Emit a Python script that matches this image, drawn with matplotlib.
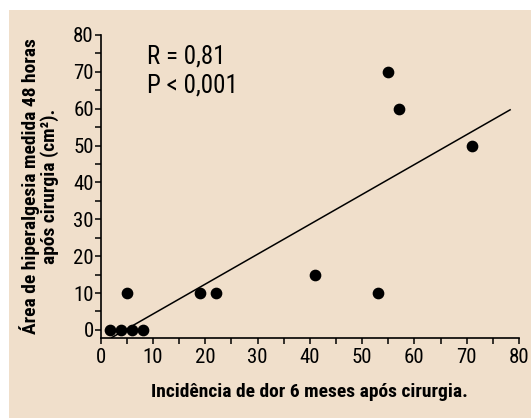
import matplotlib
matplotlib.use("Agg")
import matplotlib.pyplot as plt
from matplotlib.patches import Rectangle
from matplotlib.ticker import MultipleLocator
from matplotlib import font_manager

# Data
incidencia = [1.7, 3.9, 6.0, 8.1, 5.0, 19.0, 22.0, 41.0, 53.0, 55.0, 57.0, 71.0]
area = [0, 0, 0, 0, 10, 10, 10, 15, 10, 70, 60, 50]
fit_x = [2.1, 78.3]
fit_y = [-2.1, 59.7]
xticks = [0, 10, 20, 30, 40, 50, 60, 70, 80]
yticks = [0, 10, 20, 30, 40, 50, 60, 70, 80]

names = {f.name for f in font_manager.fontManager.ttflist}
fam = "Liberation Sans"
for cand in ["Nimbus Sans Narrow", "Liberation Sans Narrow", "Arial Narrow",
             "Roboto Condensed", "Archivo Narrow", "PT Sans Narrow",
             "Open Sans Condensed", "Barlow Semi Condensed"]:
    if cand in names:
        fam = cand
        break
plt.rcParams['font.family'] = [fam, 'DejaVu Sans']

bg = "#F0DFCB"
W, H = 531, 418
fig = plt.figure(figsize=(W/100, H/100), dpi=100, facecolor="white")
fig.patches.append(Rectangle((9/W, 0), 1 - 9/W, 1 - 10/H, transform=fig.transFigure,
                             facecolor=bg, edgecolor="none", zorder=-10))

ax = fig.add_axes([100.7/W, 1 - 338/H, (519 - 100.7)/W, (338 - 35)/H])
ax.set_facecolor(bg)
ax.patch.set_alpha(0)

ax.scatter(incidencia, area, s=55, color="black", zorder=3, clip_on=False)
ax.plot(fit_x, fit_y, color="black", lw=1.1)

ax.set_xlim(0, 80)
ax.set_ylim(-2.2, 80)
ax.set_xticks(xticks)
ax.set_yticks(yticks)
ax.xaxis.set_minor_locator(MultipleLocator(5))
ax.yaxis.set_minor_locator(MultipleLocator(5))
for s in ["top", "right"]:
    ax.spines[s].set_visible(False)
for s in ["left", "bottom"]:
    ax.spines[s].set_linewidth(1.2)
ax.tick_params(which="both", direction="out", width=1.1, colors="black", length=4)
ax.tick_params(axis="y", which="major", labelsize=15, pad=1)
ax.tick_params(axis="x", which="major", labelsize=15, pad=3)

ax.set_xlabel("Incidência de dor 6 meses após cirurgia.", fontsize=14,
              fontweight="bold", labelpad=12)
ax.set_ylabel("Área de hiperalgesia medida 48 horas\napós cirurgia (cm²).", fontsize=14,
              fontweight="bold", labelpad=10, linespacing=1.0)

ax.text(8.8, 72.4, "R = 0,81", fontsize=18, va="baseline", ha="left")
ax.text(8.8, 64.5, "P < 0,001", fontsize=18, va="baseline", ha="left")

fig.savefig("out.png", dpi=100, facecolor="white")
